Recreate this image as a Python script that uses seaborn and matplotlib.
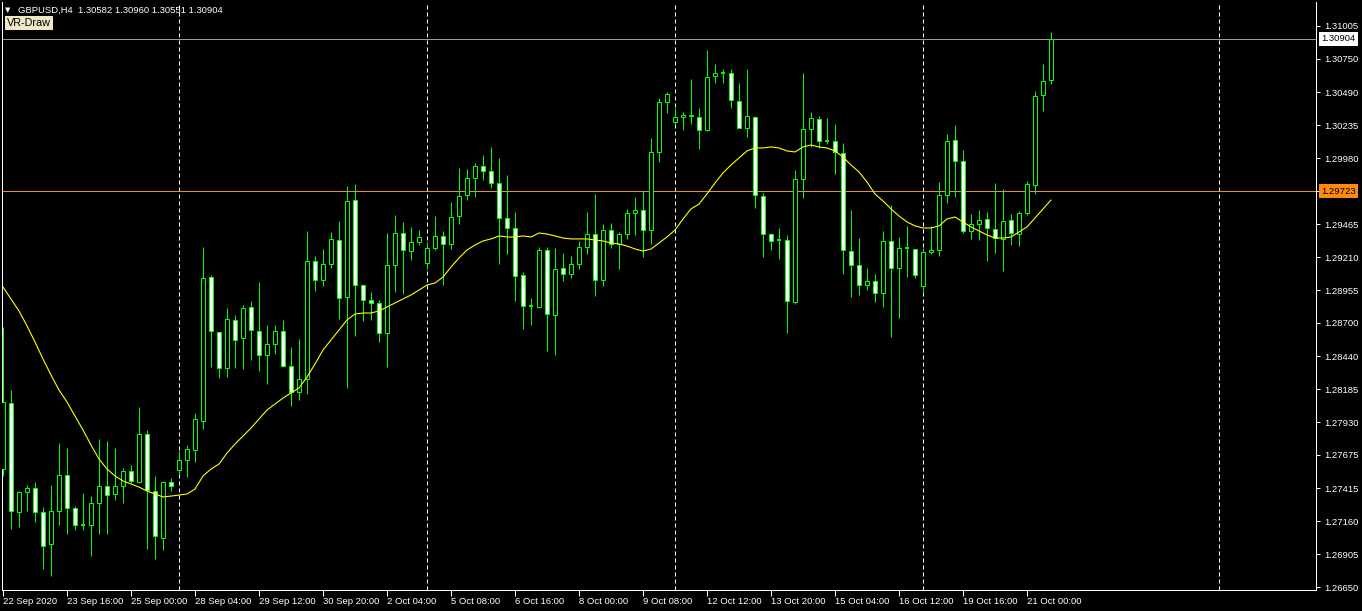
import numpy as np
import pandas as pd
import matplotlib
matplotlib.use('Agg')
import matplotlib.pyplot as plt
import matplotlib.transforms as mtransforms
import seaborn as sns

# GBPUSD H4 candles (one per bar, left to right)
opens = [1.27566, 1.28079, 1.27232, 1.27387, 1.27419, 1.27232, 1.26984, 1.27240, 1.27519, 1.27263,
         1.27131, 1.27131, 1.27302, 1.27434, 1.27372, 1.27434, 1.27550, 1.27465, 1.27838, 1.27395,
         1.27031, 1.27465, 1.27558, 1.27636, 1.27714, 1.27938, 1.29056, 1.28629, 1.28351, 1.28723,
         1.28583, 1.28824, 1.28637, 1.28451, 1.28536, 1.28637, 1.28365, 1.28163, 1.28265, 1.29181,
         1.29033, 1.29158, 1.29344, 1.28901, 1.29654, 1.28994, 1.28878, 1.28855, 1.28622, 1.29150,
         1.29398, 1.29258, 1.29328, 1.29166, 1.29282, 1.29375, 1.29313, 1.29530, 1.29693, 1.29826,
         1.29918, 1.29879, 1.29787, 1.29515, 1.29437, 1.29072, 1.28831, 1.28824, 1.29266, 1.28761,
         1.29127, 1.29080, 1.29158, 1.29289, 1.29390, 1.29033, 1.29421, 1.29313, 1.29390, 1.29554,
         1.29577, 1.29421, 1.30027, 1.30415, 1.30259, 1.30298, 1.30306, 1.30298, 1.30198, 1.30617,
         1.30641, 1.30641, 1.30423, 1.30213, 1.30298, 1.29685, 1.29390, 1.29344, 1.29344, 1.28862,
         1.29818, 1.30206, 1.30283, 1.30112, 1.30112, 1.30019, 1.29258, 1.29150, 1.28994, 1.29025,
         1.28933, 1.29336, 1.29127, 1.29282, 1.29274, 1.28986, 1.29251, 1.29266, 1.29693, 1.30120,
         1.29957, 1.29413, 1.29468, 1.29507, 1.29429, 1.29352, 1.29499, 1.29390, 1.29554, 1.29771,
         1.30469, 1.30582]
highs = [1.28669, 1.28179, 1.27395, 1.27442, 1.27465, 1.27271, 1.27442, 1.27768, 1.27729, 1.27278,
         1.27380, 1.27356, 1.27799, 1.27783, 1.27729, 1.27574, 1.27597, 1.28048, 1.27869, 1.27511,
         1.27473, 1.27496, 1.27706, 1.27752, 1.28001, 1.29290, 1.29072, 1.28629, 1.28816, 1.28761,
         1.28839, 1.28870, 1.29017, 1.28684, 1.28684, 1.28723, 1.28513, 1.28575, 1.29413, 1.29219,
         1.29274, 1.29405, 1.29491, 1.29763, 1.29779, 1.29002, 1.28940, 1.28878, 1.29398, 1.29538,
         1.29483, 1.29444, 1.29421, 1.29328, 1.29530, 1.29413, 1.29638, 1.29903, 1.29895, 1.29942,
         1.30004, 1.30066, 1.29981, 1.29848, 1.29561, 1.29095, 1.28894, 1.29289, 1.29289, 1.29282,
         1.29243, 1.29219, 1.29336, 1.29561, 1.29701, 1.29468, 1.29476, 1.29405, 1.29585, 1.29678,
         1.29724, 1.30136, 1.30447, 1.30492, 1.30369, 1.30337, 1.30594, 1.30369, 1.30819, 1.30710,
         1.30672, 1.30672, 1.30563, 1.30672, 1.30306, 1.29709, 1.29398, 1.29437, 1.29382, 1.29887,
         1.30641, 1.30337, 1.30306, 1.30291, 1.30244, 1.30097, 1.29577, 1.29360, 1.29127, 1.29080,
         1.29413, 1.29616, 1.29367, 1.29453, 1.29274, 1.29282, 1.29453, 1.29794, 1.30167, 1.30237,
         1.30043, 1.29546, 1.29577, 1.29561, 1.29786, 1.29740, 1.29546, 1.29569, 1.29802, 1.30500,
         1.30710, 1.30960]
lows = [1.27511, 1.27100, 1.27116, 1.27240, 1.27154, 1.26790, 1.26735, 1.27131, 1.27062, 1.27093,
        1.27093, 1.26890, 1.27062, 1.27062, 1.27325, 1.27302, 1.27458, 1.27458, 1.26945, 1.26867,
        1.26937, 1.27395, 1.27527, 1.27504, 1.27620, 1.27876, 1.28358, 1.28273, 1.28280, 1.28351,
        1.28343, 1.28412, 1.28327, 1.28226, 1.28459, 1.28358, 1.28055, 1.28102, 1.28148, 1.28948,
        1.28986, 1.29127, 1.28730, 1.28195, 1.28598, 1.28715, 1.28723, 1.28551, 1.28358, 1.28940,
        1.28925, 1.29189, 1.29305, 1.29119, 1.29266, 1.28994, 1.29274, 1.29468, 1.29654, 1.29678,
        1.29810, 1.29748, 1.29158, 1.29235, 1.28870, 1.28653, 1.28684, 1.28816, 1.28482, 1.28451,
        1.29025, 1.29049, 1.29119, 1.29235, 1.28909, 1.28986, 1.29282, 1.29119, 1.29352, 1.29382,
        1.29212, 1.29313, 1.29949, 1.30330, 1.30236, 1.30198, 1.30244, 1.30050, 1.30190, 1.30563,
        1.30563, 1.30369, 1.30213, 1.30144, 1.29592, 1.29212, 1.29266, 1.29196, 1.28622, 1.28847,
        1.29670, 1.30066, 1.30058, 1.30089, 1.29856, 1.29080, 1.28902, 1.28917, 1.28956, 1.28862,
        1.28824, 1.28591, 1.28738, 1.29056, 1.29049, 1.28933, 1.29235, 1.29219, 1.29631, 1.29678,
        1.29398, 1.29352, 1.29344, 1.29181, 1.29243, 1.29103, 1.29305, 1.29297, 1.29538, 1.29701,
        1.30345, 1.30551]
closes = [1.28086, 1.27240, 1.27387, 1.27419, 1.27232, 1.26968, 1.27240, 1.27519, 1.27263, 1.27131,
          1.27131, 1.27302, 1.27434, 1.27364, 1.27434, 1.27550, 1.27473, 1.27838, 1.27403, 1.27046,
          1.27465, 1.27434, 1.27636, 1.27721, 1.27954, 1.29049, 1.28637, 1.28351, 1.28730, 1.28567,
          1.28816, 1.28645, 1.28451, 1.28536, 1.28637, 1.28365, 1.28163, 1.28265, 1.29181, 1.29033,
          1.29158, 1.29352, 1.28894, 1.29646, 1.28994, 1.28878, 1.28855, 1.28622, 1.29150, 1.29398,
          1.29266, 1.29328, 1.29367, 1.29282, 1.29375, 1.29313, 1.29522, 1.29685, 1.29826, 1.29918,
          1.29879, 1.29787, 1.29515, 1.29437, 1.29064, 1.28831, 1.28831, 1.29266, 1.28769, 1.29119,
          1.29080, 1.29158, 1.29289, 1.29390, 1.29033, 1.29421, 1.29313, 1.29390, 1.29554, 1.29577,
          1.29421, 1.30027, 1.30415, 1.30477, 1.30298, 1.30314, 1.30314, 1.30198, 1.30609, 1.30641,
          1.30641, 1.30431, 1.30213, 1.30306, 1.29693, 1.29390, 1.29336, 1.29344, 1.28870, 1.29818,
          1.30206, 1.30291, 1.30112, 1.30112, 1.30027, 1.29266, 1.29150, 1.28994, 1.29025, 1.28933,
          1.29336, 1.29127, 1.29282, 1.29282, 1.29072, 1.29251, 1.29266, 1.29693, 1.30112, 1.29957,
          1.29413, 1.29468, 1.29499, 1.29437, 1.29359, 1.29491, 1.29398, 1.29554, 1.29779, 1.30461,
          1.30578, 1.30904]
# yellow moving average as drawn on the chart
ma_line = [1.28979, 1.28886, 1.28793, 1.28677, 1.28552, 1.28420, 1.28296, 1.28179, 1.28086, 1.27978,
           1.27869, 1.27752, 1.27644, 1.27566, 1.27512, 1.27473, 1.27450, 1.27426, 1.27395, 1.27372,
           1.27349, 1.27356, 1.27364, 1.27372, 1.27411, 1.27512, 1.27566, 1.27605, 1.27690, 1.27760,
           1.27822, 1.27884, 1.27954, 1.28024, 1.28070, 1.28117, 1.28156, 1.28195, 1.28280, 1.28381,
           1.28490, 1.28567, 1.28645, 1.28723, 1.28769, 1.28777, 1.28777, 1.28793, 1.28824, 1.28855,
           1.28886, 1.28917, 1.28956, 1.28994, 1.29010, 1.29056, 1.29134, 1.29204, 1.29266, 1.29305,
           1.29336, 1.29352, 1.29375, 1.29367, 1.29367, 1.29375, 1.29367, 1.29398, 1.29390, 1.29375,
           1.29359, 1.29352, 1.29352, 1.29352, 1.29344, 1.29336, 1.29321, 1.29313, 1.29297, 1.29274,
           1.29258, 1.29274, 1.29321, 1.29367, 1.29421, 1.29507, 1.29585, 1.29623, 1.29701, 1.29786,
           1.29864, 1.29926, 1.29981, 1.30035, 1.30058, 1.30058, 1.30066, 1.30058, 1.30035, 1.30027,
           1.30066, 1.30081, 1.30066, 1.30058, 1.30035, 1.29988, 1.29926, 1.29872, 1.29794, 1.29701,
           1.29647, 1.29585, 1.29530, 1.29484, 1.29453, 1.29437, 1.29437, 1.29453, 1.29507, 1.29522,
           1.29484, 1.29445, 1.29414, 1.29383, 1.29359, 1.29359, 1.29367, 1.29406, 1.29445, 1.29515,
           1.29585, 1.29654]

time_labels = ['22 Sep 2020', '23 Sep 16:00', '25 Sep 00:00', '28 Sep 04:00', '29 Sep 12:00',
               '30 Sep 20:00', '2 Oct 04:00', '5 Oct 08:00', '6 Oct 16:00', '8 Oct 00:00',
               '9 Oct 08:00', '12 Oct 12:00', '13 Oct 20:00', '15 Oct 04:00', '16 Oct 12:00',
               '19 Oct 16:00', '21 Oct 00:00']
label_bars = list(range(0, 129, 8))
week_sep_bars = [22, 53, 84, 115, 152]
price_ticks = [1.31005, 1.30750, 1.30490, 1.30235, 1.29980, 1.29723, 1.29465, 1.29210, 1.28955,
               1.28700, 1.28440, 1.28185, 1.27930, 1.27675, 1.27415, 1.27160, 1.26905, 1.26650]
bid_price = 1.30904
level_price = 1.29723
header = 'GBPUSD,H4  1.30582 1.30960 1.30551 1.30904'

df = pd.DataFrame({'open': opens, 'high': highs, 'low': lows, 'close': closes, 'ma': ma_line})
df['bar'] = np.arange(len(df))

sns.set_theme(style='dark', rc={'axes.facecolor': 'black', 'figure.facecolor': 'black'})
plt.rcParams['font.family'] = ['Liberation Sans', 'DejaVu Sans']

W, H = 1362, 611
fig = plt.figure(figsize=(W / 100, H / 100), dpi=100, facecolor='black')
ax = fig.add_axes([2 / W, 21 / H, 1314 / W, 588 / H])
ax.set_facecolor('black')

green = '#00ff00'
px = 0.72  # one pixel in points

# weekly separators
for b in week_sep_bars:
    ax.axvline(b, color='white', lw=px, linestyle=(0, (4, 3)), zorder=1)

# horizontal levels
ax.axhline(bid_price, color='#9a9a9a', lw=px, zorder=1)
ax.axhline(level_price, color='#e8922a', lw=px, zorder=1)

# candles
ax.vlines(df['bar'], df['low'], df['high'], color=green, lw=px, zorder=2)
body = df['close'] - df['open']
doji = body.abs() < 0.00005
bull = (body > 0) & ~doji
bear = (body < 0) & ~doji
ax.bar(df.loc[bull, 'bar'], body[bull], bottom=df.loc[bull, 'open'], width=0.6,
       facecolor='black', edgecolor=green, linewidth=px, zorder=3)
ax.bar(df.loc[bear, 'bar'], body[bear], bottom=df.loc[bear, 'open'], width=0.6,
       facecolor='white', edgecolor=green, linewidth=px, zorder=3)
ax.hlines(df.loc[doji, 'close'], df.loc[doji, 'bar'] - 0.3, df.loc[doji, 'bar'] + 0.3,
          color=green, lw=1.4, zorder=3)

# moving average
sns.lineplot(data=df, x='bar', y='ma', ax=ax, color='#ffff00', lw=0.8, zorder=4)

ax.set_xlim(-0.125, 164.125)
ax.set_ylim(1.26627, 1.31191)
ax.set_xlabel('')
ax.set_ylabel('')
ax.grid(False)

ax.set_xticks(label_bars)
ax.set_xticklabels(time_labels, ha='left')
ax.yaxis.tick_right()
ax.set_yticks(price_ticks)
# the level marker box below carries the 1.29723 text, so that tick keeps only its mark
ax.set_yticklabels(['' if p == level_price else f'{p:.5f}' for p in price_ticks])
ax.tick_params(axis='x', colors='white', labelsize=6.8, length=4, width=px, direction='out', pad=1, bottom=True)
ax.tick_params(axis='y', colors='white', labelsize=6.8, length=3, width=px, direction='out', pad=3, right=True, left=False)

for side in ['left', 'right', 'bottom']:
    ax.spines[side].set_visible(True)
    ax.spines[side].set_color('white')
    ax.spines[side].set_linewidth(px)
ax.spines['top'].set_visible(False)

# price labels on the scale
trans = mtransforms.blended_transform_factory(ax.transAxes, ax.transData)
ax.text(1 + 5 / 1314, bid_price, f'{bid_price:.5f}', transform=trans, ha='left', va='center',
        fontsize=6.8, color='black', zorder=10,
        bbox=dict(boxstyle='square,pad=0.25', fc='white', ec='none'))
ax.text(1 + 5 / 1314, level_price, f'{level_price:.5f}', transform=trans, ha='left', va='center',
        fontsize=6.8, color='black', zorder=10,
        bbox=dict(boxstyle='square,pad=0.25', fc='#ff8a10', ec='none'))

# header and indicator label
fig.text(5 / W, 1 - 10 / H, '\u25bc', color='white', fontsize=5, va='center', ha='left',
         family=['DejaVu Sans'])
fig.text(18 / W, 1 - 10 / H, header, color='white', fontsize=6.8, va='center', ha='left')
fig.text(7 / W, 1 - 23 / H, 'VR-Draw', color='black', fontsize=7.8, va='center', ha='left',
         bbox=dict(boxstyle='square,pad=0.2', fc='#efe6c8', ec='none'))

fig.savefig('out.png', dpi=100, facecolor='black')
